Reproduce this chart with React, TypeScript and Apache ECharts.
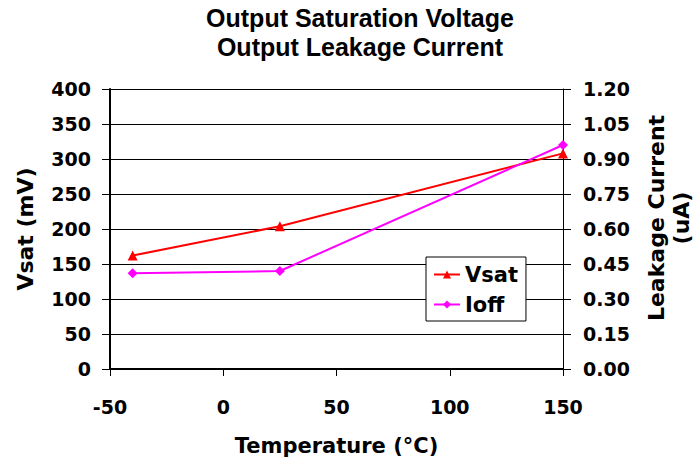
import React, { useEffect, useRef } from "react";
import * as echarts from "echarts";

const temperatures = [-40, 25, 150];
const vsatValues = [162, 204, 308];
const ioffValues = [0.41, 0.42, 0.96];
const xTicks = { min: -50, max: 150, interval: 50 };
const leftTicks = { min: 0, max: 400, interval: 50 };
const rightTicks = { min: 0, max: 1.2, interval: 0.15 };
const rightAxisNameLines = ["Leakage Current", "(uA)"];

const WIDE = "DejaVu Sans, sans-serif";
const TITLE_FONT = "Liberation Sans, Arial, sans-serif";

export default function App() {
  const ref = useRef<HTMLDivElement>(null);
  useEffect(() => {
    if (!ref.current) return;
    const chart = echarts.init(ref.current, undefined, { renderer: "svg" });
    const labelStyle = { fontFamily: WIDE, fontWeight: "bold" as const, fontSize: 19, color: "#000" };
    chart.setOption({
      animation: false,
      backgroundColor: "#fff",
      textStyle: { fontFamily: WIDE },
      title: {
        text: "Output Saturation Voltage\nOutput Leakage Current",
        left: 355,
        textAlign: "center",
        top: 0,
        padding: [3, 5, 5, 5],
        textStyle: { fontFamily: TITLE_FONT, fontWeight: "bold", fontSize: 25, lineHeight: 29, color: "#000" },
      },
      grid: { left: 110, right: 136, top: 89, bottom: 97, containLabel: false, outerBoundsMode: "none" },
      legend: {
        orient: "vertical",
        left: 426,
        top: 257,
        padding: [7, 8, 6, 7],
        itemGap: 9,
        itemWidth: 26,
        itemHeight: 10,
        backgroundColor: "#fff",
        borderColor: "#000",
        borderWidth: 1,
        borderRadius: 0,
        textStyle: { fontFamily: WIDE, fontWeight: "bold", fontSize: 21, color: "#000" },
        data: ["Vsat", "Ioff"],
      },
      graphic: rightAxisNameLines.map((line, i) => ({
        type: "text",
        x: 656 + i * 25,
        y: 218,
        rotation: Math.PI / 2,
        style: {
          text: line,
          fontFamily: WIDE,
          fontWeight: "bold",
          fontSize: 22,
          fill: "#000",
          align: "center",
          verticalAlign: "middle",
        },
      })),
      xAxis: {
        type: "value",
        min: xTicks.min,
        max: xTicks.max,
        interval: xTicks.interval,
        name: "Temperature (°C)",
        nameLocation: "middle",
        nameGap: 66,
        nameTextStyle: { ...labelStyle, fontSize: 21 },
        axisLine: { show: true, onZero: false, lineStyle: { color: "#000", width: 2 } },
        axisTick: { show: true, length: 7, lineStyle: { color: "#000" } },
        axisLabel: { ...labelStyle, margin: 28 },
        splitLine: { show: false },
      },
      yAxis: [
        {
          type: "value",
          position: "left",
          min: leftTicks.min,
          max: leftTicks.max,
          interval: leftTicks.interval,
          name: "Vsat (mV)",
          nameLocation: "middle",
          nameRotate: 90,
          nameGap: 74,
          nameTextStyle: { ...labelStyle, fontSize: 22 },
          axisLine: { show: true, onZero: false, lineStyle: { color: "#000", width: 2 } },
          axisTick: { show: true, length: 8, lineStyle: { color: "#000" } },
          axisLabel: { ...labelStyle, margin: 19 },
          splitLine: { show: true, lineStyle: { color: "#000", width: 1 } },
        },
        {
          type: "value",
          position: "right",
          min: rightTicks.min,
          max: rightTicks.max,
          interval: rightTicks.interval,
          axisLine: { show: true, onZero: false, lineStyle: { color: "#000", width: 1 } },
          axisTick: { show: true, length: 8, lineStyle: { color: "#000" } },
          axisLabel: {
            ...labelStyle,
            margin: 20,
            formatter: (v: number) => v.toFixed(2),
          },
          splitLine: { show: false },
        },
      ],
      series: [
        {
          name: "Vsat",
          type: "line",
          yAxisIndex: 0,
          data: temperatures.map((t, i) => [t, vsatValues[i]]),
          symbol: "triangle",
          symbolSize: 10,
          itemStyle: { color: "#ff0000" },
          lineStyle: { color: "#ff0000", width: 2 },
        },
        {
          name: "Ioff",
          type: "line",
          yAxisIndex: 1,
          data: temperatures.map((t, i) => [t, ioffValues[i]]),
          symbol: "diamond",
          symbolSize: 10,
          itemStyle: { color: "#ff00ff" },
          lineStyle: { color: "#ff00ff", width: 2 },
        },
      ],
    });
    return () => chart.dispose();
  }, []);
  return <div ref={ref} style={{ width: 699, height: 466, position: "absolute", left: 0, top: 0 }} />;
}
